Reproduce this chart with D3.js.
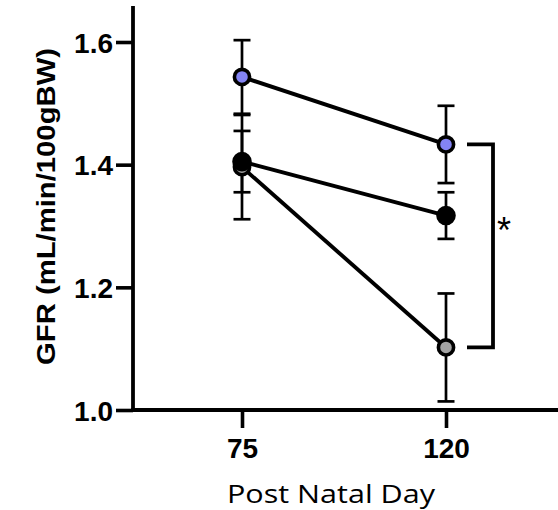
<!DOCTYPE html>
<html><head><meta charset="utf-8">
<script src="https://cdn.jsdelivr.net/npm/d3@7"></script>
<style>body{margin:0;background:#fff;} svg{display:block;}</style>
</head><body>
<svg id="c" width="558" height="510"></svg>
<script>
const days = ["75", "120"];
const seriesNames = ["blue", "black", "gray"];
const seriesMeans = [[1.543, 1.433], [1.405, 1.317], [1.396, 1.102]];
const seriesErr = [[0.06, 0.063], [0.05, 0.038], [0.085, 0.088]];
const seriesFill = ["#8484f4", "#000000", "#a3a3a3"];
const yTicks = [1.0, 1.2, 1.4, 1.6];

const svg = d3.select("#c");
const x = d3.scalePoint().domain(days).range([242, 446]);
const y = d3.scaleLinear().domain([1.0, 1.6]).range([410, 42]);
const boldFont = "Liberation Sans, Arial, sans-serif";

// error bars
const order = [2, 1, 0];
order.forEach(si => {
  days.forEach((d, i) => {
    const m = seriesMeans[si][i], e = seriesErr[si][i];
    const g = svg.append("g").attr("stroke", "#000").attr("stroke-width", 2.7);
    g.append("line").attr("x1", x(d)).attr("x2", x(d)).attr("y1", y(m - e)).attr("y2", y(m + e));
    [m - e, m + e].forEach(v => g.append("line").attr("x1", x(d) - 8.5).attr("x2", x(d) + 8.5).attr("y1", y(v)).attr("y2", y(v)));
  });
});
// lines
order.forEach(si => {
  svg.append("path")
    .datum(days.map((d, i) => [x(d), y(seriesMeans[si][i])]))
    .attr("d", d3.line()).attr("fill", "none").attr("stroke", "#000").attr("stroke-width", 3.9);
});
// markers
order.forEach(si => {
  days.forEach((d, i) => {
    svg.append("circle").attr("cx", x(d)).attr("cy", y(seriesMeans[si][i]))
      .attr("r", si === 1 ? 8 : 7.6).attr("fill", seriesFill[si]).attr("stroke", "#000").attr("stroke-width", 3.6);
  });
});

// axes
const yAxis = svg.append("g").attr("transform", "translate(133,0)")
  .call(d3.axisLeft(y).tickValues(yTicks).tickFormat(d3.format(".1f")).tickSize(17).tickPadding(3));
yAxis.select(".domain").remove();
yAxis.append("line").attr("x1", 0).attr("x2", 0).attr("y1", 6).attr("y2", 412).attr("stroke", "#000").attr("stroke-width", 3.8);
yAxis.selectAll(".tick line").attr("stroke-width", 3.6);
yAxis.selectAll(".tick text").attr("font-family", boldFont).attr("font-weight", "bold").attr("font-size", 28).attr("fill", "#000").attr("dy", "0.36em");

const xAxis = svg.append("g").attr("transform", "translate(0,410)")
  .call(d3.axisBottom(x).tickSize(18).tickPadding(8));
xAxis.select(".domain").remove();
xAxis.append("line").attr("x1", 131).attr("x2", 558).attr("y1", 0).attr("y2", 0).attr("stroke", "#000").attr("stroke-width", 3.8);
xAxis.selectAll(".tick line").attr("stroke-width", 3.6);
xAxis.selectAll(".tick text").attr("font-family", boldFont).attr("font-weight", "bold").attr("font-size", 28).attr("fill", "#000")
  .attr("y", 48).attr("dy", 0);

// axis titles
svg.append("text").attr("transform", "translate(55,206.5) rotate(-90)").attr("text-anchor", "middle")
  .attr("font-family", boldFont).attr("font-weight", "bold").attr("font-size", 26)
  .attr("textLength", 317).attr("lengthAdjust", "spacingAndGlyphs")
  .text("GFR (mL/min/100gBW)");
svg.append("text").attr("x", 331).attr("y", 503).attr("text-anchor", "middle")
  .attr("font-family", "Open Sans, Noto Sans, sans-serif").attr("font-size", 25.5)
  .attr("textLength", 208).attr("lengthAdjust", "spacingAndGlyphs")
  .text("Post Natal Day");

// significance bracket
const bx = 493;
svg.append("path")
  .attr("d", `M467,${y(seriesMeans[0][1])}H${bx}V${y(seriesMeans[2][1])}H467`)
  .attr("fill", "none").attr("stroke", "#000").attr("stroke-width", 3.8);
svg.append("text").attr("x", 497).attr("y", 243)
  .attr("font-family", boldFont).attr("font-size", 36).text("*");
</script>
</body></html>
